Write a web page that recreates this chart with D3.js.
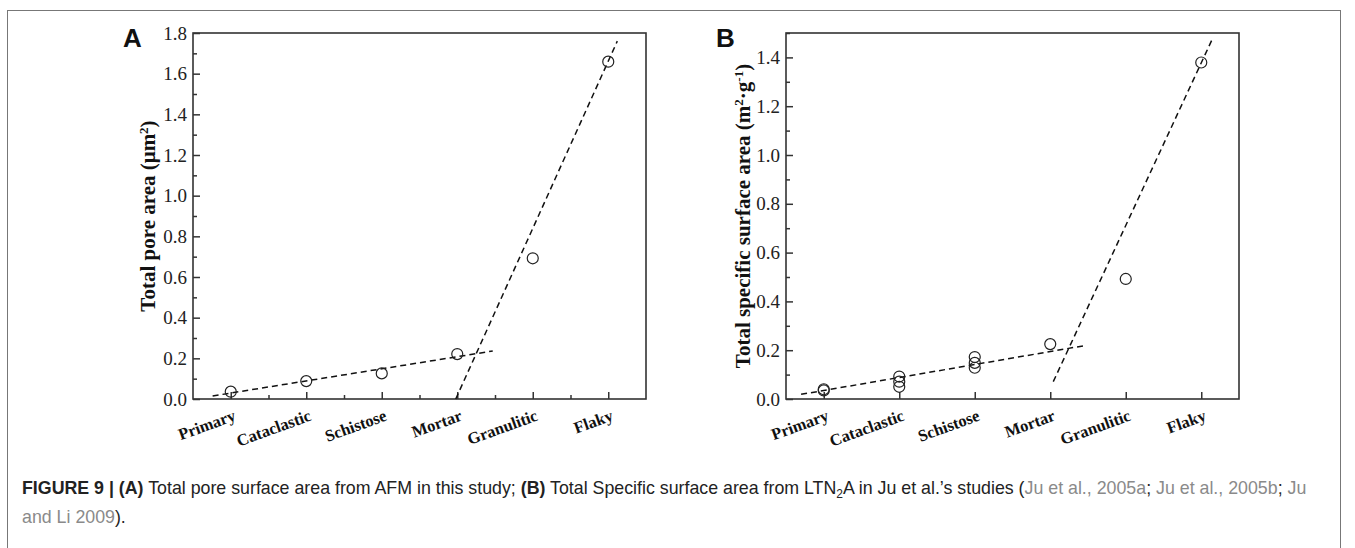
<!DOCTYPE html>
<html>
<head>
<meta charset="utf-8">
<script src="https://cdn.jsdelivr.net/npm/d3@7"></script>
<style>
  html, body { margin: 0; padding: 0; background: #fff; }
  svg { display: block; }
</style>
</head>
<body>
<div id="chart"></div>
<script>
// categories on the x axis (same for both panels)
var categories = ["Primary", "Cataclastic", "Schistose", "Mortar", "Granulitic", "Flaky"];

// panel A: total pore area from AFM (one value per category)
var poreArea = [0.036, 0.088, 0.126, 0.221, 0.692, 1.659];

// panel B: total specific surface area (several samples per category)
var specCategory = [1, 1, 2, 2, 2, 3, 3, 3, 4, 5, 6];
var specArea     = [0.04, 0.035, 0.092, 0.071, 0.05, 0.172, 0.148, 0.128, 0.225, 0.492, 1.379];

// dashed trend lines, [x (category position), y]
var trendA1 = [[0.76, 0.015], [4.47, 0.236]];
var trendA2 = [[3.98, 0.0], [6.12, 1.76]];
var trendB1 = [[0.70, 0.019], [4.46, 0.219]];
var trendB2 = [[4.04, 0.071], [6.14, 1.471]];

var yTicksA = [0, 0.2, 0.4, 0.6, 0.8, 1.0, 1.2, 1.4, 1.6, 1.8];
var yTicksB = [0, 0.2, 0.4, 0.6, 0.8, 1.0, 1.2, 1.4];

var W = 1355, H = 548;

var svg = d3.select("#chart").append("svg")
  .attr("width", W)
  .attr("height", H);

// outer figure frame
svg.append("rect")
  .attr("x", 7.5).attr("y", 10.5)
  .attr("width", 1333).attr("height", 560)
  .attr("fill", "none")
  .attr("stroke", "#777")
  .attr("stroke-width", 1);

function drawPanel(opt) {
  var x = d3.scaleLinear().domain([0.5, 6.5]).range([opt.left, opt.right]);
  var y = d3.scaleLinear().domain([0, opt.ymax]).range([opt.bottom, opt.top]);
  var g = svg.append("g");

  // frame
  g.append("rect")
    .attr("x", opt.left).attr("y", opt.top)
    .attr("width", opt.right - opt.left).attr("height", opt.bottom - opt.top)
    .attr("fill", "none").attr("stroke", "#333").attr("stroke-width", 1.6);

  // y axis major + minor ticks pointing inward
  var yAxis = d3.axisLeft(y).tickValues(opt.yTicks).tickFormat(d3.format(".1f"))
    .tickSize(-7).tickPadding(6);
  var ya = g.append("g").attr("transform", "translate(" + opt.left + ",0)").call(yAxis);
  var minorY = opt.yTicks.slice(0, -1).map(function(d) { return d + 0.1; });
  if (opt.ymax > opt.yTicks[opt.yTicks.length - 1] + 0.05) minorY.push(opt.yTicks[opt.yTicks.length - 1] + 0.1);
  g.append("g").attr("transform", "translate(" + opt.left + ",0)")
    .call(d3.axisLeft(y).tickValues(minorY).tickSize(-4).tickFormat(""));

  // x axis
  var xAxis = d3.axisBottom(x).tickValues(d3.range(1, 7)).tickSize(-7).tickFormat("");
  g.append("g").attr("transform", "translate(0," + opt.bottom + ")").call(xAxis);
  if (opt.minorX) {
    g.append("g").attr("transform", "translate(0," + opt.bottom + ")")
      .call(d3.axisBottom(x).tickValues(d3.range(1.5, 6.5, 1)).tickSize(-4).tickFormat(""));
  }

  g.selectAll(".domain").attr("stroke", "none");
  g.selectAll(".tick line").attr("stroke", "#333").attr("stroke-width", 1.5);
  ya.selectAll(".tick text")
    .attr("font-family", "'Liberation Serif', 'Times New Roman', serif")
    .attr("font-size", 19)
    .attr("fill", "#222");

  // rotated category labels
  g.selectAll(".cat")
    .data(categories)
    .enter().append("text")
    .attr("transform", function(d, i) {
      return "translate(" + (x(i + 1) + 6) + "," + (opt.bottom + 21) + ") rotate(-20)";
    })
    .attr("text-anchor", "end")
    .attr("font-family", "'Liberation Serif', 'Times New Roman', serif")
    .attr("font-weight", "bold")
    .attr("font-size", 16.5)
    .attr("fill", "#111")
    .text(function(d) { return d; });

  // trend lines
  var line = d3.line().x(function(d) { return x(d[0]); }).y(function(d) { return y(d[1]); });
  opt.trends.forEach(function(t) {
    g.append("path")
      .attr("d", line(t))
      .attr("fill", "none")
      .attr("stroke", "#111")
      .attr("stroke-width", 1.5)
      .attr("stroke-dasharray", "6,4");
  });

  // points
  g.selectAll(".pt")
    .data(opt.points)
    .enter().append("circle")
    .attr("cx", function(d) { return x(d[0]); })
    .attr("cy", function(d) { return y(d[1]); })
    .attr("r", 5.5)
    .attr("fill", "none")
    .attr("stroke", "#222")
    .attr("stroke-width", 1.2);

  // y title
  var t = g.append("text")
    .attr("transform", "translate(" + opt.titleX + "," + ((opt.top + opt.bottom) / 2) + ") rotate(-90)")
    .attr("text-anchor", "middle")
    .attr("font-family", "'Liberation Serif', 'Times New Roman', serif")
    .attr("font-weight", "bold")
    .attr("font-size", 21)
    .attr("fill", "#111");
  opt.title.forEach(function(p) {
    var s = t.append("tspan").text(p[0]);
    if (p[1] === "sup") s.attr("dy", -7).attr("font-size", 13);
    if (p[1] === "back") s.attr("dy", 7);
  });

  // panel letter
  g.append("text")
    .attr("x", opt.letterX).attr("y", 47)
    .attr("font-family", "'Liberation Sans', Arial, sans-serif")
    .attr("font-weight", "bold")
    .attr("font-size", 26)
    .attr("fill", "#111")
    .text(opt.letter);
}

drawPanel({
  left: 193, right: 646, top: 33, bottom: 399, ymax: 1.8,
  yTicks: yTicksA, minorX: true,
  points: poreArea.map(function(v, i) { return [i + 1, v]; }),
  trends: [trendA1, trendA2],
  titleX: 155,
  title: [["Total pore area (\u03bcm"], ["2", "sup"], [")", "back"]],
  letter: "A", letterX: 123
});

drawPanel({
  left: 786, right: 1239, top: 33, bottom: 399, ymax: 1.5,
  yTicks: yTicksB, minorX: false,
  points: specArea.map(function(v, i) { return [specCategory[i], v]; }),
  trends: [trendB1, trendB2],
  titleX: 750,
  title: [["Total specific surface area (m"], ["2", "sup"], ["\u00b7g", "back"], ["-1", "sup"], [")", "back"]],
  letter: "B", letterX: 716
});

// caption
var cap = svg.append("g")
  .attr("font-family", "'Liberation Sans', Arial, sans-serif")
  .attr("font-size", 17.8)
  .attr("fill", "#222");

var line1 = cap.append("text").attr("x", 22).attr("y", 494);
var parts1 = [
  ["FIGURE 9 | (A)", "b"], [" Total pore surface area from AFM in this study; "], ["(B)", "b"],
  [" Total Specific surface area from LTN"], ["2", "sub"], ["A in Ju et al.\u2019s studies (", "up"],
  ["Ju et al., 2005a", "c"], ["; "], ["Ju et al., 2005b", "c"], ["; "], ["Ju", "c"]
];
var parts2 = [["and Li 2009", "c"], [")."]];

function addParts(el, parts) {
  parts.forEach(function(p) {
    var s = el.append("tspan").text(p[0]);
    if (p[1] === "b") s.attr("font-weight", "bold");
    if (p[1] === "c") s.attr("fill", "#8a8a8a");
    if (p[1] === "sub") s.attr("dy", 4).attr("font-size", 12);
    if (p[1] === "up") s.attr("dy", -4);
  });
}
addParts(line1, parts1);
var line2 = cap.append("text").attr("x", 22).attr("y", 523);
addParts(line2, parts2);
</script>
</body>
</html>
